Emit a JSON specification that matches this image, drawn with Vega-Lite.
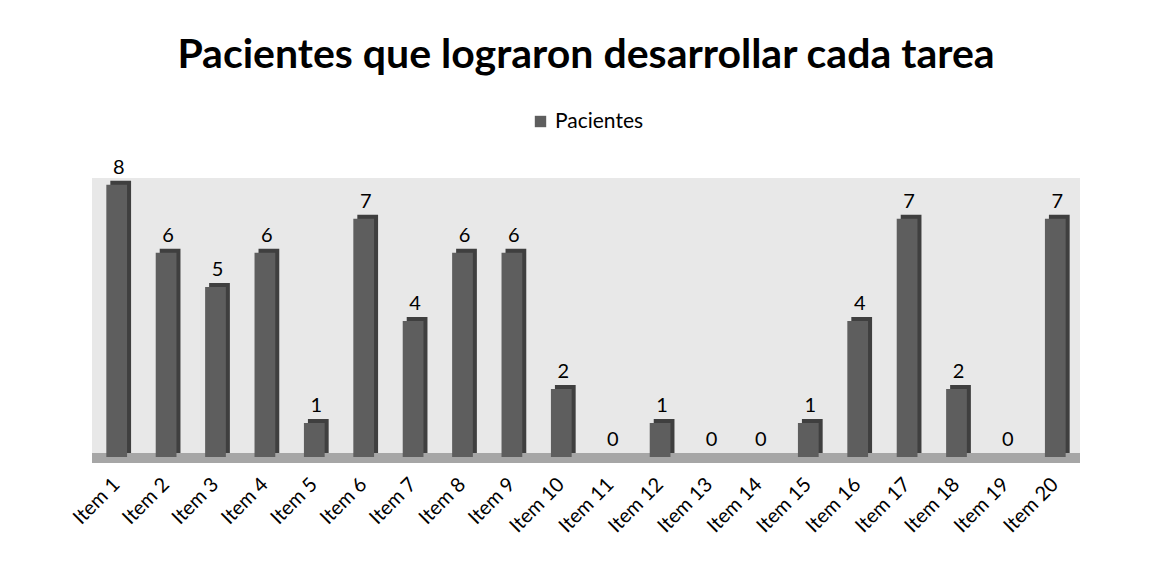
{
  "$schema": "https://vega.github.io/schema/vega-lite/v6.json",
  "autosize": {"type": "none"},
  "width": 988,
  "height": 279,
  "padding": {"left": 92, "top": 178, "right": 77, "bottom": 115},
  "background": "white",
  "title": {
    "text": "Pacientes que lograron desarrollar cada tarea",
    "font": "Lato",
    "fontSize": 41,
    "fontWeight": "bold",
    "color": "#000000",
    "anchor": "middle",
    "offset": 34
  },
  "data": {
    "values": [
      {"item": "Item 1", "v": 8, "serie": "Pacientes"},
      {"item": "Item 2", "v": 6, "serie": "Pacientes"},
      {"item": "Item 3", "v": 5, "serie": "Pacientes"},
      {"item": "Item 4", "v": 6, "serie": "Pacientes"},
      {"item": "Item 5", "v": 1, "serie": "Pacientes"},
      {"item": "Item 6", "v": 7, "serie": "Pacientes"},
      {"item": "Item 7", "v": 4, "serie": "Pacientes"},
      {"item": "Item 8", "v": 6, "serie": "Pacientes"},
      {"item": "Item 9", "v": 6, "serie": "Pacientes"},
      {"item": "Item 10", "v": 2, "serie": "Pacientes"},
      {"item": "Item 11", "v": 0, "serie": "Pacientes"},
      {"item": "Item 12", "v": 1, "serie": "Pacientes"},
      {"item": "Item 13", "v": 0, "serie": "Pacientes"},
      {"item": "Item 14", "v": 0, "serie": "Pacientes"},
      {"item": "Item 15", "v": 1, "serie": "Pacientes"},
      {"item": "Item 16", "v": 4, "serie": "Pacientes"},
      {"item": "Item 17", "v": 7, "serie": "Pacientes"},
      {"item": "Item 18", "v": 2, "serie": "Pacientes"},
      {"item": "Item 19", "v": 0, "serie": "Pacientes"},
      {"item": "Item 20", "v": 7, "serie": "Pacientes"}
    ]
  },
  "encoding": {
    "x": {
      "field": "item", "type": "nominal", "sort": null,
      "scale": {"paddingInner": 0.58, "paddingOuter": 0.29},
      "axis": {
        "title": null, "labelAngle": -45, "labelAlign": "right", "labelBaseline": "middle",
        "labelFont": "Lato", "labelFontSize": 20, "labelColor": "#000000",
        "ticks": false, "domain": false, "labelPadding": 24
      }
    },
    "y": {
      "field": "v", "type": "quantitative",
      "scale": {"domain": [0, 8.2], "nice": false},
      "axis": null
    }
  },
  "layer": [
    {
      "mark": {"type": "rule", "color": "#a6a6a6", "strokeWidth": 9, "yOffset": 1},
      "encoding": {"y": {"datum": 0}, "x": null}
    },
    {
      "mark": {"type": "bar", "color": "#3f3f3f", "xOffset": 4, "yOffset": -4},
      "encoding": {}
    },
    {
      "mark": {"type": "bar"},
      "encoding": {
        "color": {
          "field": "serie", "type": "nominal",
          "scale": {"range": ["#5e5e5e"]},
          "legend": {
            "title": null, "orient": "none", "legendX": 438, "legendY": -67,
            "symbolType": "square", "symbolSize": 130, "symbolStrokeWidth": 0,
            "labelFont": "Lato", "labelFontSize": 21, "labelColor": "#000000"
          }
        }
      }
    },
    {
      "mark": {"type": "text", "dy": -17, "font": "Lato", "fontSize": 20, "color": "#000000", "dx": 2},
      "encoding": {"text": {"field": "v", "type": "quantitative"}}
    }
  ],
  "config": {
    "view": {"fill": "#e8e8e8", "stroke": null}
  }
}
